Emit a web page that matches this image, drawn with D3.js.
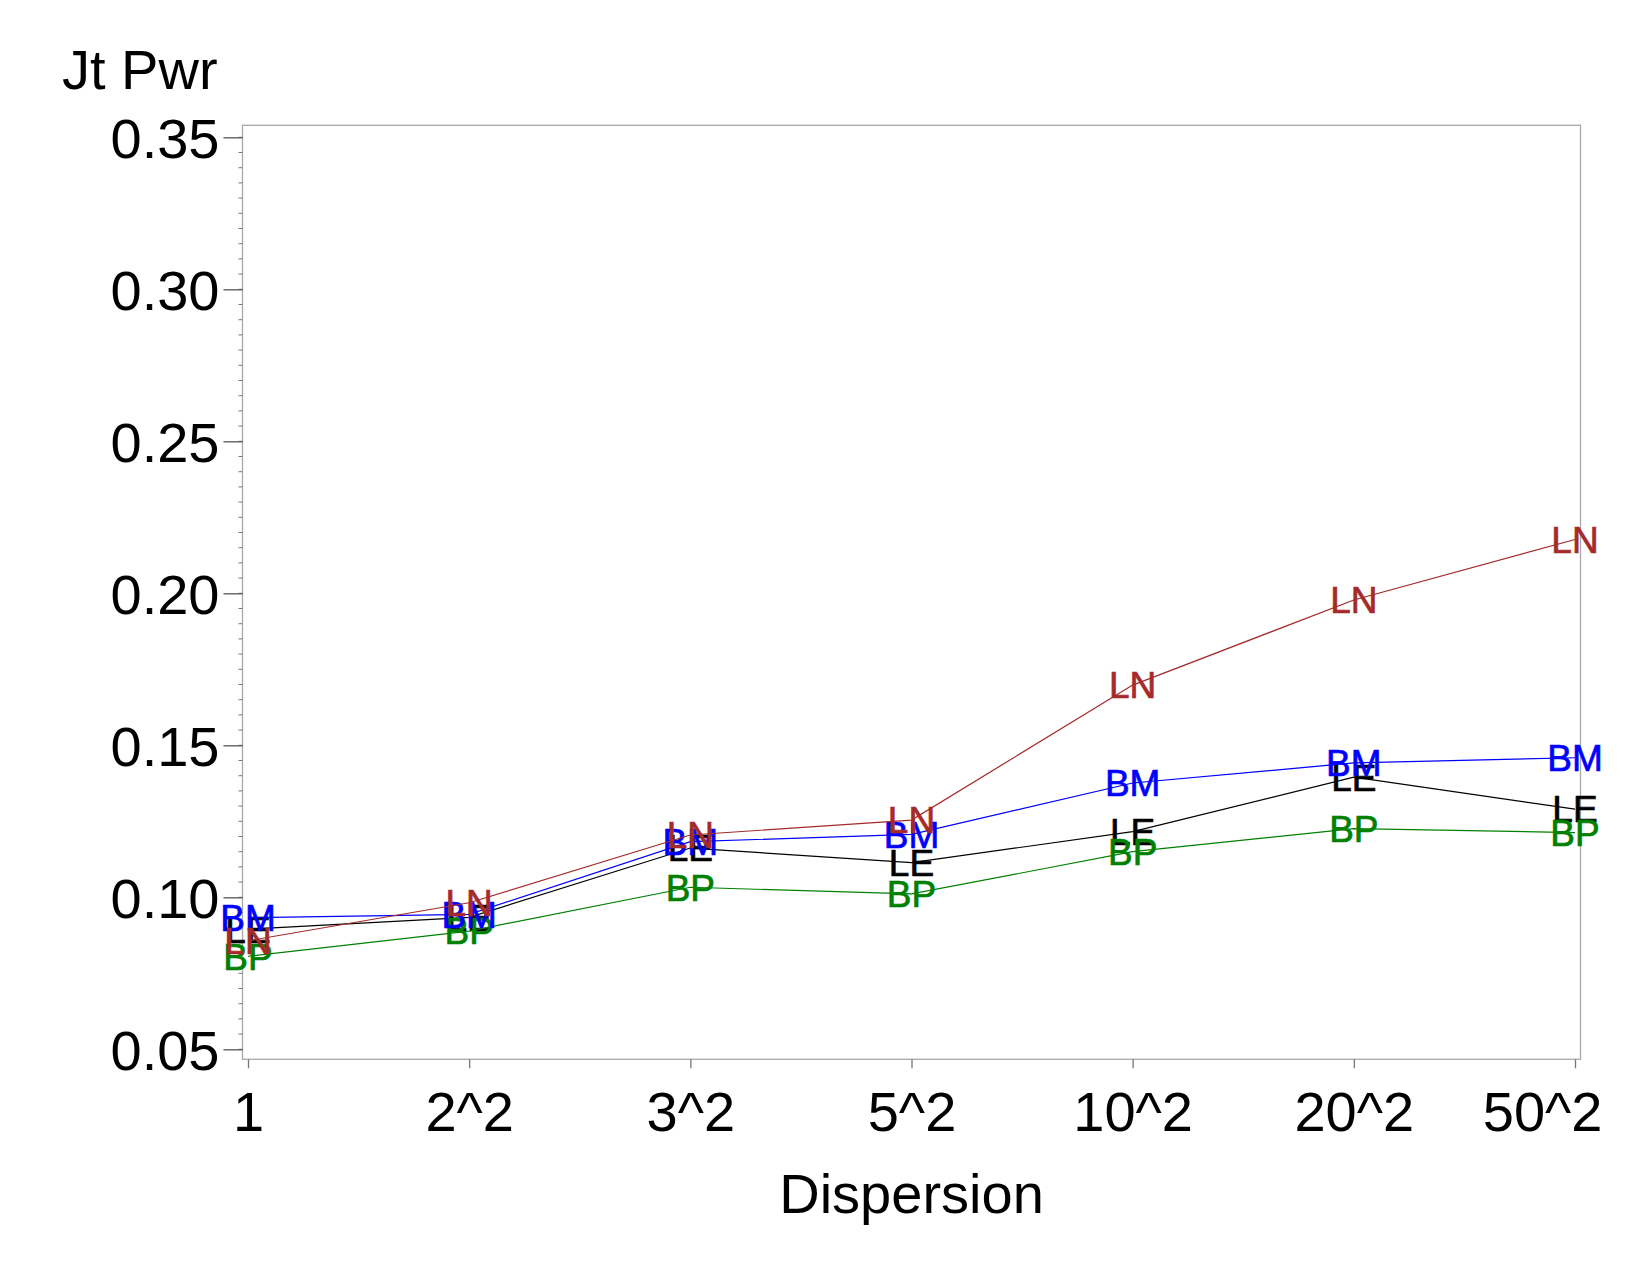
<!DOCTYPE html>
<html>
<head>
<meta charset="utf-8">
<script src="https://cdn.jsdelivr.net/npm/d3@7"></script>
<style>
  body { margin: 0; background: #fff; }
  text { font-family: "Liberation Sans", Arial, sans-serif; }
</style>
</head>
<body>
<svg width="1650" height="1275"></svg>
<script>
// categories on the x axis
const dispersion = ["1", "2^2", "3^2", "5^2", "10^2", "20^2", "50^2"];

// series values (joint power)
const LE = [0.0895, 0.0934, 0.1162, 0.1114, 0.1216, 0.1395, 0.1290];
const BP = [0.0806, 0.0889, 0.1033, 0.1011, 0.1150, 0.1226, 0.1213];
const BM = [0.0933, 0.0944, 0.1183, 0.1207, 0.1376, 0.1442, 0.1459];
const LN = [0.0857, 0.0982, 0.1205, 0.1254, 0.1698, 0.1978, 0.2177];

const seriesNames = ["LE", "BP", "BM", "LN"];
const seriesValues = [LE, BP, BM, LN];
const seriesColors = ["#000000", "#008000", "#0000ff", "#a52a2a"];

const yTicks = [0.05, 0.10, 0.15, 0.20, 0.25, 0.30, 0.35];

const svg = d3.select("svg");

const x = d3.scalePoint()
  .domain(dispersion)
  .range([248, 1575]);

const y = d3.scaleLinear()
  .domain([0.05, 0.35])
  .range([1049.3, 137.3]);

// plot frame
const frameL = x(dispersion[0]) - 5.5,
  frameR = x(dispersion[dispersion.length - 1]) + 5.5,
  frameT = y(0.35) - 12,
  frameB = y(0.05) + 10;

svg.append("rect")
  .attr("x", frameL)
  .attr("y", frameT)
  .attr("width", frameR - frameL)
  .attr("height", frameB - frameT)
  .attr("fill", "none")
  .attr("stroke", "#a8a8a8")
  .attr("stroke-width", 1.3);

// y axis with minor ticks
const minor = d3.range(0.05, 0.3501, 0.005);
svg.append("g").selectAll("line")
  .data(minor)
  .enter().append("line")
  .attr("x1", frameL - 4).attr("x2", frameL)
  .attr("y1", d => y(d)).attr("y2", d => y(d))
  .attr("stroke", "#777").attr("stroke-width", 1);

const yAxis = svg.append("g")
  .attr("transform", "translate(" + frameL + ",0)")
  .call(d3.axisLeft(y).tickValues(yTicks).tickFormat(d3.format(".2f")).tickSizeOuter(0).tickSizeInner(19).tickPadding(4));
yAxis.select(".domain").remove();
yAxis.selectAll(".tick line").attr("stroke", "#555").attr("stroke-width", 1.3);
yAxis.selectAll(".tick text")
  .attr("font-size", 56)
  .attr("fill", "#000")
  .attr("font-family", "Liberation Sans, Arial, sans-serif")
  .attr("dy", "0.36em");

// x axis
const xAxis = svg.append("g")
  .attr("transform", "translate(0," + frameB + ")")
  .call(d3.axisBottom(x).tickSizeOuter(0).tickSizeInner(9).tickPadding(12));
xAxis.select(".domain").remove();
xAxis.selectAll(".tick line").attr("stroke", "#777").attr("stroke-width", 1.3);
xAxis.selectAll(".tick text")
  .attr("font-size", 56)
  .attr("fill", "#000")
  .attr("font-family", "Liberation Sans, Arial, sans-serif")
  .attr("dy", null)
  .attr("y", 1131 - frameB);
// last label is pulled in so it stays inside the page
xAxis.selectAll(".tick text")
  .filter(d => d === dispersion[dispersion.length - 1])
  .attr("text-anchor", "end")
  .attr("x", 27);

// axis titles
svg.append("text")
  .attr("x", 62).attr("y", 89)
  .attr("font-size", 56)
  .text("Jt Pwr");

svg.append("text")
  .attr("x", (frameL + frameR) / 2).attr("y", 1213)
  .attr("text-anchor", "middle")
  .attr("font-size", 56)
  .text("Dispersion");

// series: text markers plus joining lines
const line = d3.line()
  .x((d, i) => x(dispersion[i]))
  .y(d => y(d));

seriesNames.forEach((name, k) => {
  const g = svg.append("g").attr("class", "series");
  g.selectAll("text")
    .data(seriesValues[k])
    .enter().append("text")
    .attr("x", (d, i) => x(dispersion[i]))
    .attr("y", d => y(d))
    .attr("dy", "0.36em")
    .attr("text-anchor", "middle")
    .attr("font-size", 37)
    .attr("fill", seriesColors[k])
    .attr("stroke", seriesColors[k])
    .attr("stroke-width", 0.7)
    .text(name);
  g.append("path")
    .datum(seriesValues[k])
    .attr("d", line)
    .attr("fill", "none")
    .attr("stroke", seriesColors[k])
    .attr("stroke-width", 1.2);
});
</script>
</body>
</html>
